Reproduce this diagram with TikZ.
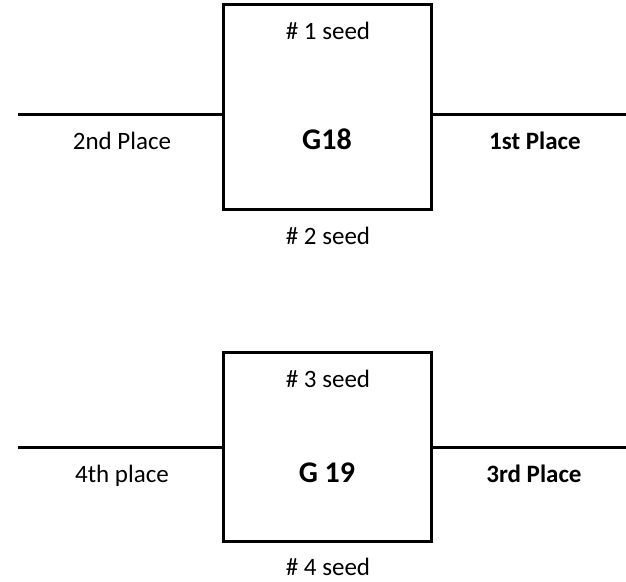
\documentclass[tikz,border=0pt]{standalone}
\usepackage{fontspec}
\setmainfont{Carlito}
\usepackage{xcolor}

\begin{document}
\begin{tikzpicture}[x=0.5pt, y=-0.5pt, line width=1.5pt,
    game/.style={draw, rectangle, minimum width=104pt, inner sep=0pt},
    gamelabel/.style={anchor=base, font=\fontsize{15}{18}\selectfont\bfseries},
    seed/.style={anchor=base, font=\fontsize{12.5}{15}\selectfont},
    place/.style={anchor=base, font=\fontsize{12.5}{15}\selectfont},
    winner/.style={anchor=base, font=\fontsize{12.5}{15}\selectfont\bfseries}]
    \useasboundingbox (0,0) rectangle (626,582);

    % Game 18 (top)
    \node[game, minimum height=102.5pt] (g18) at (327,107.5) {};
    \node[gamelabel] (g18label) at (327,150) {G18};
    \node[seed] (seed1) at (328,40) {\# 1 seed};
    \node[seed] (seed2) at (328,245) {\# 2 seed};
    \coordinate (g18left) at (18,115);
    \coordinate (g18right) at (626,115);
    \draw (g18left) -- (g18.west |- g18left);
    \draw (g18.east |- g18right) -- (g18right);
    \node[place] (second) at (122,150) {2nd Place};
    \node[winner] (first) at (535,150) {1st Place};

    % Game 19 (bottom)
    \node[game, minimum height=94pt] (g19) at (327,447) {};
    \node[gamelabel] (g19label) at (327,482) {G 19};
    \node[seed] (seed3) at (328,387) {\# 3 seed};
    \node[seed] (seed4) at (328,575) {\# 4 seed};
    \coordinate (g19left) at (18,447);
    \coordinate (g19right) at (626,447);
    \draw (g19left) -- (g19.west |- g19left);
    \draw (g19.east |- g19right) -- (g19right);
    \node[place] (fourth) at (122,482) {4th place};
    \node[winner] (third) at (534,482) {3rd Place};
\end{tikzpicture}
\end{document}
